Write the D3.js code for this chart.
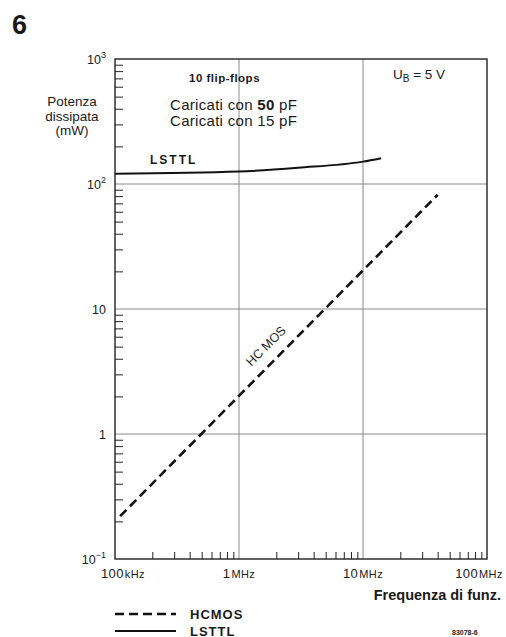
<!DOCTYPE html>
<html lang="it">
<head>
<meta charset="UTF-8">
<title>Potenza dissipata</title>
<script src="https://cdn.jsdelivr.net/npm/d3@7"></script>
<style>
  body { margin: 0; background: #fff; }
  text { font-family: "Liberation Sans", Arial, sans-serif; fill: #1a1a1a; }
</style>
</head>
<body>
<div id="fig"></div>
<script>
    // values
    let hcmosFreq = [1.1e5, 4e7];
    let hcmosPower = [0.22, 82];
    let lsttlFreq = [1e5, 1e6, 3e6, 1e7, 1.4e7];
    let lsttlPower = [121, 126, 135, 151, 161];
    let xMajor = [1e5, 1e6, 1e7, 1e8];
    let xTickNum = ["100", "1", "10", "100"];
    let xTickUnit = ["kHz", "MHz", "MHz", "MHz"];
    let yMajor = [1e-1, 1, 10, 1e2, 1e3];
    let yTickBase = ["10", "1", "10", "10", "10"];
    let yTickExp = ["\u22121", "", "", "2", "3"];

    let W = 506, H = 637;
    let m = {left: 115, top: 59, right: 487, bottom: 559};

    let svg = d3.select("#fig").append("svg")
        .attr("width", W).attr("height", H);

    let x = d3.scaleLog().domain([1e5, 1e8]).range([m.left, m.right]);
    let y = d3.scaleLog().domain([1e-1, 1e3]).range([m.bottom, m.top]);

    // minor tick values 2..9 in every decade
    let minorX = [], minorY = [];
    for (let d = 5; d < 8; d++) for (let k = 2; k <= 9; k++) minorX.push(k * Math.pow(10, d));
    for (let d = -1; d < 3; d++) for (let k = 2; k <= 9; k++) minorY.push(k * Math.pow(10, d));

    // grid
    let grid = svg.append("g").attr("stroke", "#8a8a8a").attr("stroke-width", 1);
    grid.selectAll("line.v").data([1e6, 1e7]).join("line").attr("class", "v")
        .attr("x1", d => x(d)).attr("x2", d => x(d))
        .attr("y1", m.top).attr("y2", m.bottom);
    grid.selectAll("line.h").data([1, 10, 100]).join("line").attr("class", "h")
        .attr("x1", m.left).attr("x2", m.right)
        .attr("y1", d => y(d)).attr("y2", d => y(d));

    // minor ticks, pointing inward
    let xAx = svg.append("g").attr("transform", `translate(0,${m.bottom})`)
        .call(d3.axisBottom(x).tickValues(minorX).tickSize(-7).tickFormat(""));
    let yAx = svg.append("g").attr("transform", `translate(${m.left},0)`)
        .call(d3.axisLeft(y).tickValues(minorY).tickSize(-8).tickFormat(""));
    [xAx, yAx].forEach(a => {
        a.select(".domain").remove();
        a.selectAll("line").attr("stroke", "#222").attr("stroke-width", 1);
    });

    // frame
    svg.append("rect").attr("x", m.left).attr("y", m.top)
        .attr("width", m.right - m.left).attr("height", m.bottom - m.top)
        .attr("fill", "none").attr("stroke", "#222").attr("stroke-width", 1.4);

    // curves
    let line = d3.line().x(d => x(d[0])).y(d => y(d[1]));
    svg.append("path")
        .datum(d3.zip(lsttlFreq, lsttlPower))
        .attr("d", line.curve(d3.curveMonotoneX))
        .attr("fill", "none").attr("stroke", "#111").attr("stroke-width", 2);
    svg.append("path")
        .datum(d3.zip(hcmosFreq, hcmosPower))
        .attr("d", d3.line().x(d => x(d[0])).y(d => y(d[1])))
        .attr("fill", "none").attr("stroke", "#111").attr("stroke-width", 2.6)
        .attr("stroke-dasharray", "9,5");

    // x tick labels
    xMajor.forEach((v, i) => {
        let dx = i === 0 ? 8 : (i === 3 ? -8 : 0);
        let t = svg.append("text").attr("x", x(v) + dx).attr("y", 578)
            .attr("text-anchor", "middle").attr("font-size", 13).attr("fill", "#333")
            .attr("letter-spacing", 0.4);
        t.append("tspan").text(xTickNum[i]);
        t.append("tspan").attr("font-size", 11).attr("dx", 1).text(xTickUnit[i]);
    });

    // y tick labels
    yMajor.forEach((v, i) => {
        let t = svg.append("text").attr("x", 106).attr("y", y(v) + 5)
            .attr("text-anchor", "end").attr("font-size", 12.5).attr("fill", "#333");
        t.append("tspan").text(yTickBase[i]);
        if (yTickExp[i]) t.append("tspan").attr("font-size", 9).attr("dy", -6).text(yTickExp[i]);
    });

    // figure number
    svg.append("text").attr("x", 12).attr("y", 34).attr("font-size", 27)
        .attr("font-weight", "bold").text("6");

    // y axis title
    ["Potenza", "dissipata", "(mW)"].forEach((s, i) => {
        svg.append("text").attr("x", 72).attr("y", 106 + i * 14.5)
            .attr("text-anchor", "middle").attr("font-size", 13.5).text(s);
    });

    // annotations inside plot
    svg.append("text").attr("x", 189).attr("y", 82).attr("font-size", 11.5)
        .attr("font-weight", "bold").attr("letter-spacing", 0.5).attr("fill", "#333").text("10 flip-flops");
    let c1 = svg.append("text").attr("x", 170).attr("y", 110).attr("font-size", 15)
        .attr("letter-spacing", 0.3);
    c1.append("tspan").text("Caricati con ");
    c1.append("tspan").attr("font-weight", "bold").text("50");
    c1.append("tspan").text(" pF");
    svg.append("text").attr("x", 170).attr("y", 126).attr("font-size", 15)
        .attr("letter-spacing", 0.3).text("Caricati con 15 pF");

    let ub = svg.append("text").attr("x", 393).attr("y", 79).attr("font-size", 13.5);
    ub.append("tspan").text("U");
    ub.append("tspan").attr("font-size", 10).attr("dy", 3).text("B");
    ub.append("tspan").attr("dy", -3).text(" = 5 V");

    svg.append("text").attr("x", 150).attr("y", 164).attr("font-size", 12)
        .attr("font-weight", "bold").attr("letter-spacing", 2).attr("fill", "#333").text("LSTTL");

    svg.append("text").attr("transform", "translate(269,349) rotate(-45)")
        .attr("text-anchor", "middle").attr("font-size", 12.5).attr("fill", "#333").text("HC MOS");

    // x axis title
    svg.append("text").attr("x", 501).attr("y", 600).attr("text-anchor", "end")
        .attr("font-size", 14.5).attr("font-weight", "bold").attr("fill", "#2a2a2a").text("Frequenza di funz.");

    // legend
    let legend = [["HCMOS", "9,5", 2.6], ["LSTTL", null, 2]];
    legend.forEach((d, i) => {
        let ly = 614 + i * 17;
        svg.append("line").attr("x1", 115).attr("x2", 176).attr("y1", ly).attr("y2", ly)
            .attr("stroke", "#111").attr("stroke-width", d[2])
            .attr("stroke-dasharray", d[1]);
        svg.append("text").attr("x", 190).attr("y", ly + 4.5).attr("font-size", 13)
            .attr("font-weight", "bold").attr("letter-spacing", 1).text(d[0]);
    });

    svg.append("text").attr("x", 452).attr("y", 635).attr("font-size", 7)
        .attr("font-weight", "bold").text("83078-6");
</script>
</body>
</html>
